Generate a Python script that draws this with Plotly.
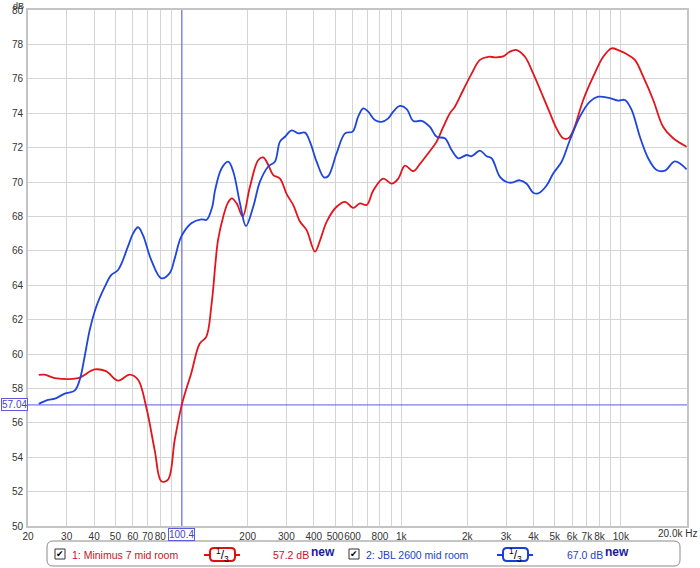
import plotly.graph_objects as go

# ---------------- data ----------------
red_freq = [22.4, 23.8, 26.5, 33.8, 40.2, 45.3, 51.4, 58.1, 63.4, 69.1, 75.5, 80.9, 86.8, 93.1,
            100.5, 110.8, 120.9, 129.6, 137, 146.5, 154.9, 162.7, 169.1, 178.2, 189.8, 204.8,
            223.6, 235.6, 248.2, 261.6, 280.6, 301, 322.6, 346, 371, 405, 427, 458, 508, 555,
            605, 649, 696, 746, 828, 905, 970, 1040, 1135, 1217, 1327, 1450, 1554, 1666, 1756,
            1916, 2092, 2282, 2490, 2672, 2915, 3126, 3354, 3658, 3990, 4358, 4754, 5100, 5466,
            5760, 6068, 6740, 7482, 8312, 9074, 9724, 10620, 11582, 12638, 14036, 15588, 17308,
            19918]
red_db = [58.78, 58.8, 58.6, 58.6, 59.1, 59.0, 58.45, 58.8, 58.5, 56.9, 54.4, 52.6, 52.7, 55.0,
          57.1, 58.9, 60.6, 61.0, 62.9, 66.6, 68.0, 68.8, 69.05, 68.76, 68.0, 69.73,
          71.28, 71.43, 70.99, 70.4, 70.2, 69.3, 68.66, 67.7, 67.2, 65.95, 66.6, 67.7, 68.56, 68.85,
          68.5, 68.76, 68.66, 69.5, 70.2, 69.9, 70.2, 70.95, 70.63, 71.05, 71.67, 72.35, 73.2, 74.0, 74.38,
          75.35, 76.3, 77.1, 77.28, 77.25, 77.3, 77.58, 77.67, 77.28, 76.3, 75.16, 74.0, 73.1, 72.54,
          72.54, 73.0, 74.77, 76.12, 77.28, 77.77, 77.67, 77.44, 77.1, 76.12, 74.77, 73.2, 72.54,
          72.05]

blue_freq = [22.4, 24.7, 26.5, 29.4, 32.6, 34.4, 36.2, 38.2, 40.9, 44.7, 47.9, 51.4, 57.0, 60.1,
             63.4, 66.8, 72.8, 80.9, 88.3, 93.1, 99.7, 110.8, 123, 130.1, 138, 142, 152.3, 163.2,
             172, 184.5, 196.5, 212, 227.5, 248.2, 266, 280.6, 295.6, 317, 340, 364.7, 384, 412,
             445, 465.6, 508, 555, 601, 637, 672, 708, 759, 814, 873, 920, 987, 1059, 1135, 1239,
             1351, 1450, 1581, 1696, 1818, 1985, 2092, 2282, 2448, 2580, 2814, 3020, 3182, 3470,
             3724, 3990, 4204, 4592, 4920, 5374, 5862, 6510, 7228, 7886, 8916, 9724, 10432, 11192,
             12206, 13316, 14544, 15866, 17618, 19918]
blue_db = [57.1, 57.33, 57.4, 57.7, 57.87, 58.5, 59.84, 61.4, 62.75, 63.9, 64.6, 64.88, 66.24, 67.0,
           67.37, 66.9, 65.46, 64.4, 64.7, 65.56, 66.82, 67.6, 67.83, 67.8, 68.56, 69.5, 70.8, 71.18,
           70.6, 68.76, 67.44, 68.56, 70.02, 70.9, 71.18, 72.35, 72.63, 73.0, 72.83, 72.87, 72.35, 71.18,
           70.27, 70.35, 71.67, 72.83, 72.93, 73.8, 74.28, 74.09, 73.6, 73.5, 73.7, 74.09, 74.42, 74.24, 73.55, 73.55,
           73.2, 72.63, 72.54, 71.86, 71.38, 71.57, 71.5, 71.82, 71.5, 71.38, 70.3, 70.0, 69.96, 70.1,
           69.9, 69.38, 69.34, 69.8, 70.5, 71.18, 72.44, 73.8, 74.67, 74.96, 74.87, 74.73, 74.77, 74.19,
           72.63, 71.38, 70.7, 70.66, 71.2, 70.74]

cursor_freq = 100.4
cursor_db = 57.04

x_grid = [20, 30, 40, 50, 60, 70, 80, 90, 100, 200, 300, 400, 500, 600, 700, 800, 900,
          1000, 2000, 3000, 4000, 5000, 6000, 7000, 8000, 9000, 10000, 20000]
x_labels = ["20", "30", "40", "50", "60", "70", "80", "", "", "200", "300", "400", "500", "600", "",
            "800", "", "1k", "2k", "3k", "4k", "5k", "6k", "7k", "8k", "", "10k", ""]
y_ticks = list(range(50, 81, 2))

legend1_name = "1: Minimus 7 mid room"
legend1_value = "57.2 dB"
legend2_name = "2: JBL 2600 mid room"
legend2_value = "67.0 dB"

RED = "#e3141c"
BLUE = "#1f45db"
CURSOR = "#5b5be0"

# ---------------- layout helpers ----------------
L, T, R, B = 28, 10, 687, 526
W, H = 700, 568


def px(x):
    return (x - L) / (R - L)


def py(y):
    return (B - y) / (B - T)


fig = go.Figure()

# cursors
fig.add_trace(go.Scatter(x=[cursor_freq, cursor_freq], y=[50, 80], mode="lines",
                         line=dict(color=CURSOR, width=1), hoverinfo="skip", showlegend=False))
fig.add_trace(go.Scatter(x=[20, 20000], y=[cursor_db, cursor_db], mode="lines",
                         line=dict(color=CURSOR, width=1), hoverinfo="skip", showlegend=False))

fig.add_trace(go.Scatter(x=red_freq, y=red_db, mode="lines", name=legend1_name,
                         line=dict(color=RED, width=1.8, shape="spline", smoothing=1.0),
                         showlegend=False))
fig.add_trace(go.Scatter(x=blue_freq, y=blue_db, mode="lines", name=legend2_name,
                         line=dict(color=BLUE, width=1.8, shape="spline", smoothing=1.0),
                         showlegend=False))

FONT = "Liberation Sans, Arial, sans-serif"
tickfont = dict(family=FONT, size=10, color="#333333")

fig.update_xaxes(type="log", range=[1.30103, 4.30103], tickvals=x_grid, ticktext=x_labels,
                 showgrid=True, gridcolor="#d4d4d4", gridwidth=1, tickfont=tickfont,
                 showline=True, linecolor="#c4c4c4", linewidth=2, mirror=True, tickangle=0,
                 ticks="", zeroline=False, fixedrange=True, automargin=False)
fig.update_yaxes(range=[50, 80], tickvals=y_ticks, ticktext=[str(v) for v in y_ticks],
                 showgrid=True, gridcolor="#d4d4d4", gridwidth=1, tickfont=tickfont,
                 showline=True, linecolor="#c4c4c4", linewidth=2, mirror=True,
                 ticks="", zeroline=False, fixedrange=True, ticklabelstandoff=1,
                 automargin=False)

ann = []
shapes = []


def add_ann(**kw):
    kw.setdefault("xref", "paper")
    kw.setdefault("yref", "paper")
    kw.setdefault("showarrow", False)
    ann.append(kw)


# axis unit labels
add_ann(x=px(18), y=py(0), text="dB", xanchor="center", yanchor="top",
        font=dict(family=FONT, size=9, color="#333333"), borderpad=0)
add_ann(x=px(699), y=py(533), text="20.0k Hz", xanchor="right", yanchor="middle",
        font=dict(family=FONT, size=10, color="#333333"))

# cursor value labels
add_ann(x=px(1), y=py(404), text="57.04", xanchor="left", yanchor="middle",
        font=dict(family=FONT, size=10, color="#4343c8"), bgcolor="white",
        bordercolor=CURSOR, borderwidth=1, borderpad=0)
add_ann(x=px(181), y=py(534), text="100.4", xanchor="center", yanchor="middle",
        font=dict(family=FONT, size=10, color="#4343c8"), bgcolor="white",
        bordercolor=CURSOR, borderwidth=1, borderpad=0)


def rounded_rect(x0, y0, x1, y1, r):
    X0, X1 = px(x0), px(x1)
    Y0, Y1 = py(y0), py(y1)  # Y0 top (higher), Y1 bottom
    rx = r / (R - L)
    ry = r / (B - T)
    return (f"M {X0+rx},{Y0} L {X1-rx},{Y0} Q {X1},{Y0} {X1},{Y0-ry} "
            f"L {X1},{Y1+ry} Q {X1},{Y1} {X1-rx},{Y1} L {X0+rx},{Y1} "
            f"Q {X0},{Y1} {X0},{Y1+ry} L {X0},{Y0-ry} Q {X0},{Y0} {X0+rx},{Y0} Z")


# legend frame
shapes.append(dict(type="path", xref="paper", yref="paper",
                   path=rounded_rect(47, 541, 680, 566, 6),
                   line=dict(color="#8a8a8a", width=1), fillcolor="white", layer="above"))

yc = 554


def legend_entry(x_chk, name, x_sym, value, x_val, color, txtcolor):
    # checkbox
    shapes.append(dict(type="rect", xref="paper", yref="paper",
                       x0=px(x_chk), x1=px(x_chk + 10), y0=py(yc - 5), y1=py(yc + 5),
                       line=dict(color="#333333", width=1), fillcolor="white", layer="above"))
    add_ann(x=px(x_chk + 5), y=py(yc), text="✔", xanchor="center", yanchor="middle",
            font=dict(family="DejaVu Sans", size=9, color="black"))
    add_ann(x=px(x_chk + 15), y=py(yc + 1), text=name, xanchor="left", yanchor="middle",
            font=dict(family=FONT, size=10.5, color=txtcolor))
    # 1/3 symbol
    shapes.append(dict(type="line", xref="paper", yref="paper",
                       x0=px(x_sym), x1=px(x_sym + 36), y0=py(yc + 1), y1=py(yc + 1),
                       line=dict(color=color, width=2), layer="above"))
    shapes.append(dict(type="path", xref="paper", yref="paper",
                       path=rounded_rect(x_sym + 6, yc - 6, x_sym + 31, yc + 7, 4),
                       line=dict(color=color, width=2), fillcolor="white", layer="above"))
    add_ann(x=px(x_sym + 18.5), y=py(yc + 1), text="<sup>1</sup>/<sub>3</sub>",
            xanchor="center", yanchor="middle",
            font=dict(family=FONT, size=12, color="black"))
    add_ann(x=px(x_val), y=py(yc + 1), text=value, xanchor="left", yanchor="middle",
            font=dict(family=FONT, size=10.5, color=txtcolor))
    add_ann(x=px(x_val + 38), y=py(yc - 2), text="<b>new</b>", xanchor="left", yanchor="middle",
            font=dict(family=FONT, size=12, color="#1a1aa0"))


legend_entry(55, legend1_name, 204, legend1_value, 271, "#e01010", "#c8141c")
legend_entry(349, legend2_name, 497, legend2_value, 565, "#1a3fd8", "#1a3fc8")

fig.update_layout(width=W, height=H, margin=dict(l=L, r=W - R, t=T, b=H - B),
                  paper_bgcolor="white", plot_bgcolor="white",
                  annotations=ann, shapes=shapes, showlegend=False,
                  font=dict(family=FONT))

fig.write_html("out.html", config={"displayModeBar": False},
               post_script="document.body.style.margin='0';"
                           "document.body.style.padding='0';"
                           "document.body.style.overflow='hidden';")
